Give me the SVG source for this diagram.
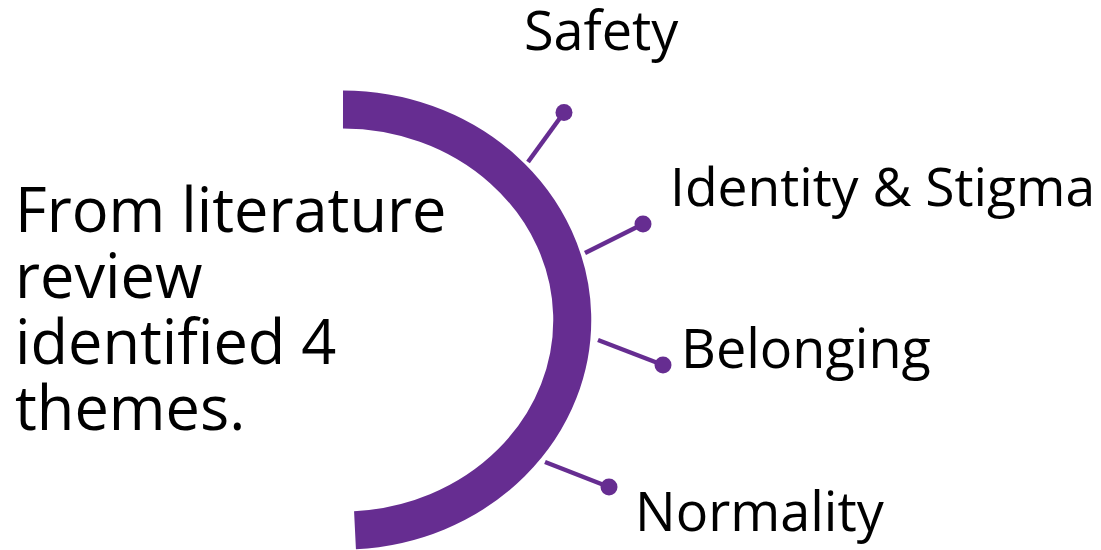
<svg xmlns="http://www.w3.org/2000/svg" width="1101" height="550" viewBox="0 0 1101 550">
  <style>
    .t { font-family: "Open Sans", "Noto Sans", "DejaVu Sans", sans-serif; fill: #000; }
    .main { font-size: 61.3px; }
    .lbl { font-size: 54px; }
    .arc { fill: none; stroke: #662D91; stroke-width: 38; stroke-linecap: butt; }
    .conn { stroke: #662D91; stroke-width: 4.5; stroke-linecap: butt; fill: none; }
    .dot { fill: #662D91; }
  </style>
  <rect width="1101" height="550" fill="#fff"/>
  <g id="intro">
    <text class="t main" x="15" y="232">From literature</text>
    <text class="t main" x="15" y="298">review</text>
    <text class="t main" x="15" y="364">identified 4</text>
    <text class="t main" x="15" y="430">themes.</text>
  </g>
  <g id="arc">
    <path class="arc" d="M 343 109.5 A 229.5 210.5 0 0 1 355 530.2"/>
  </g>
  <g id="connectors">
    <line class="conn" x1="528" y1="162" x2="564" y2="112.5"/>
    <circle class="dot" cx="564" cy="112.5" r="8.5"/>
    <line class="conn" x1="585" y1="253" x2="643" y2="224"/>
    <circle class="dot" cx="643" cy="224" r="8.5"/>
    <line class="conn" x1="598" y1="340" x2="663" y2="365"/>
    <circle class="dot" cx="663" cy="365" r="8.5"/>
    <line class="conn" x1="545" y1="462" x2="609" y2="487"/>
    <circle class="dot" cx="609" cy="487" r="8.5"/>
  </g>
  <g id="safety">
    <text class="t lbl" x="524" y="50">Safety</text>
  </g>
  <g id="identity">
    <text class="t lbl" x="670" y="206" style="font-size:53.4px">Identity &amp; Stigma</text>
  </g>
  <g id="belonging">
    <text class="t lbl" x="681" y="368">Belonging</text>
  </g>
  <g id="normality">
    <text class="t lbl" x="635" y="531">Normality</text>
  </g>
</svg>
